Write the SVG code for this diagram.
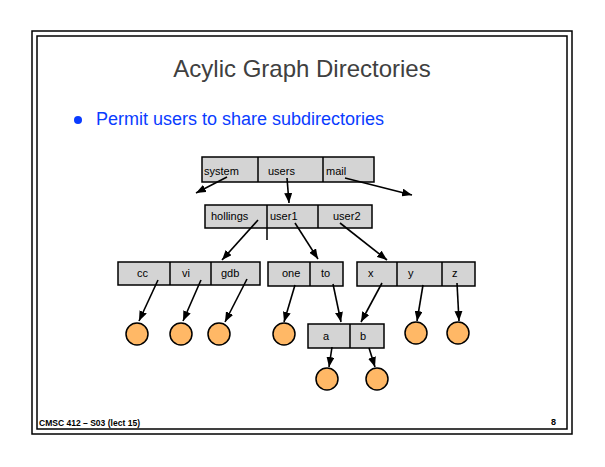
<svg xmlns="http://www.w3.org/2000/svg" width="605" height="467" viewBox="0 0 605 467">
<style>
.frame{fill:none;stroke:#000;stroke-width:1.5}
.box{fill:#d4d4d4;stroke:#000;stroke-width:1.5}
.div{stroke:#000;stroke-width:1.5}
.lbl{font-family:"Liberation Sans",Arial,sans-serif;font-size:11px;fill:#000}
.leaf{fill:#ffb866;stroke:#000;stroke-width:1.5}
.arr{stroke:#000;stroke-width:1.6;fill:none;marker-end:url(#ah)}
</style>
<defs>
<marker id="ah" viewBox="0 0 10 8" refX="10" refY="4" markerWidth="10" markerHeight="8" markerUnits="userSpaceOnUse" orient="auto">
<path d="M0,0 L10,4 L0,8 z" fill="#000"/>
</marker>
</defs>
<rect width="605" height="467" fill="#fff"/>
<rect class="frame" x="32" y="31" width="540" height="403"/>
<rect class="frame" x="37" y="36" width="530" height="393"/>
<text x="302" y="77" text-anchor="middle" font-family="'Liberation Sans',Arial,sans-serif" font-size="24" fill="#404040">Acylic Graph Directories</text>
<circle cx="78" cy="120" r="4" fill="#0a3cff"/>
<text x="96" y="125" font-family="'Liberation Sans',Arial,sans-serif" font-size="18" fill="#0a3cff">Permit users to share subdirectories</text>

<g id="root">
<rect class="box" x="202" y="157" width="172" height="25"/>
<line class="div" x1="258" y1="157" x2="258" y2="182"/>
<line class="div" x1="323" y1="157" x2="323" y2="182"/>
<text class="lbl" x="204" y="175">system</text>
<text class="lbl" x="268" y="175">users</text>
<text class="lbl" x="326" y="175">mail</text>
</g>
<g id="usersdir">
<rect class="box" x="205" y="205" width="167" height="23"/>
<line class="div" x1="267" y1="205" x2="267" y2="240"/>
<line class="div" x1="318" y1="205" x2="318" y2="228"/>
<text class="lbl" x="211" y="220">hollings</text>
<text class="lbl" x="270" y="220">user1</text>
<text class="lbl" x="333" y="220">user2</text>
</g>
<g id="hollingsdir">
<rect class="box" x="118" y="262" width="142" height="23"/>
<line class="div" x1="170" y1="262" x2="170" y2="285"/>
<line class="div" x1="211" y1="262" x2="211" y2="285"/>
<text class="lbl" x="137" y="277">cc</text>
<text class="lbl" x="182" y="277">vi</text>
<text class="lbl" x="221" y="277">gdb</text>
</g>
<g id="user1dir">
<rect class="box" x="268" y="262" width="75" height="24"/>
<line class="div" x1="310" y1="262" x2="310" y2="286"/>
<text class="lbl" x="282" y="277">one</text>
<text class="lbl" x="321" y="277">to</text>
</g>
<g id="user2dir">
<rect class="box" x="357" y="262" width="118" height="24"/>
<line class="div" x1="397" y1="262" x2="397" y2="286"/>
<line class="div" x1="442" y1="262" x2="442" y2="286"/>
<text class="lbl" x="368" y="277">x</text>
<text class="lbl" x="408" y="277">y</text>
<text class="lbl" x="452" y="277">z</text>
</g>
<g id="shareddir">
<rect class="box" x="308" y="324" width="76" height="24"/>
<line class="div" x1="350" y1="324" x2="350" y2="348"/>
<text class="lbl" x="323" y="340">a</text>
<text class="lbl" x="360" y="340">b</text>
</g>
<g id="leaves">
<circle class="leaf" cx="137" cy="334" r="11"/>
<circle class="leaf" cx="181" cy="334" r="11"/>
<circle class="leaf" cx="219" cy="334" r="11"/>
<circle class="leaf" cx="284" cy="334" r="11"/>
<circle class="leaf" cx="416" cy="333" r="11"/>
<circle class="leaf" cx="458" cy="333" r="11"/>
<circle class="leaf" cx="327" cy="379" r="11"/>
<circle class="leaf" cx="377" cy="379" r="11"/>
</g>
<g id="connectors">
<line class="arr" x1="227" y1="177" x2="196" y2="193"/>
<line class="arr" x1="287" y1="178" x2="289" y2="203"/>
<line class="arr" x1="345" y1="178" x2="412" y2="195"/>
<line class="arr" x1="258" y1="220" x2="222" y2="260"/>
<line class="arr" x1="295" y1="223" x2="318" y2="259"/>
<line class="arr" x1="340" y1="223" x2="387" y2="260"/>
<line class="arr" x1="158" y1="280" x2="139" y2="321"/>
<line class="arr" x1="201" y1="280" x2="183" y2="321"/>
<line class="arr" x1="247" y1="279" x2="225" y2="322"/>
<line class="arr" x1="295" y1="285" x2="284" y2="322"/>
<line class="arr" x1="333" y1="284" x2="341" y2="322"/>
<line class="arr" x1="382" y1="283" x2="361" y2="322"/>
<line class="arr" x1="423" y1="285" x2="417" y2="321"/>
<line class="arr" x1="457" y1="283" x2="459" y2="321"/>
<line class="arr" x1="332" y1="347" x2="329" y2="367"/>
<line class="arr" x1="369" y1="348" x2="375" y2="367"/>
</g>
<text x="39" y="426" font-family="'Liberation Sans',Arial,sans-serif" font-size="8.5" font-weight="bold" fill="#000" textLength="101" lengthAdjust="spacing">CMSC 412 – S03  (lect 15)</text>
<text x="551" y="425" font-family="'Liberation Sans',Arial,sans-serif" font-size="9" font-weight="bold" fill="#000">8</text>
</svg>
